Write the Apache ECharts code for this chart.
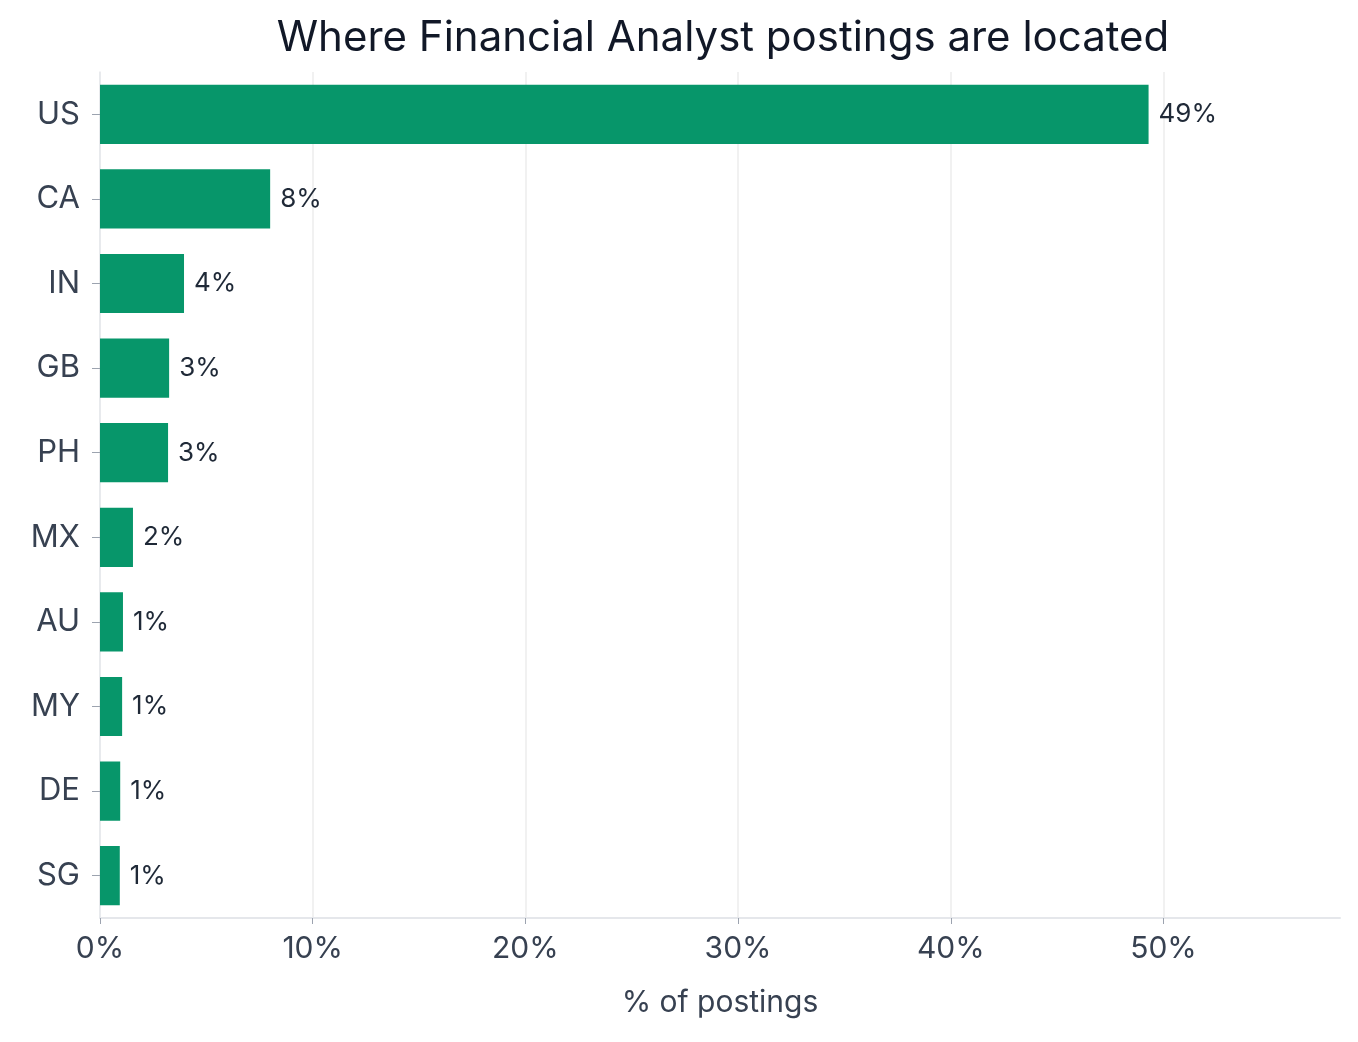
<!DOCTYPE html>
<html><head><meta charset="utf-8">
<script src="https://cdn.jsdelivr.net/npm/echarts@6/dist/echarts.min.js"></script>
<style>html,body{margin:0;background:#fff}#c{width:1358px;height:1042px}</style>
</head><body><div id="c"></div>
<script>
const categories = ["US","CA","IN","GB","PH","MX","AU","MY","DE","SG"];
const shares = [49.3, 8.0, 3.95, 3.25, 3.2, 1.55, 1.08, 1.04, 0.95, 0.93];
const xTicks = [0,10,20,30,40,50];
const chart = echarts.init(document.getElementById('c'));
chart.setOption({
  backgroundColor:'#fff',
  title:{text:'Where Financial Analyst postings are located',left:718,top:12,textAlign:'center',
    textStyle:{fontFamily:'Inter, Roboto, sans-serif',fontSize:42,fontWeight:'normal',color:'#111827'}},
  grid:{left:100,right:18,top:72,bottom:124,containLabel:false},
  xAxis:{type:'value',min:0,max:58.3,interval:10,
    name:'% of postings',nameLocation:'middle',nameGap:70,
    nameTextStyle:{fontFamily:'Inter, Roboto, sans-serif',fontSize:30,color:'#374151'},
    axisLabel:{fontFamily:'Inter, Roboto, sans-serif',fontSize:30,color:'#374151',margin:16,showMaxLabel:false,
      formatter:v=>v+'%'},
    splitLine:{show:true,showMaxLine:false,lineStyle:{color:'#ececec',width:1.5}},
    axisLine:{show:true,lineStyle:{color:'#e5e7eb',width:2}},
    axisTick:{show:true,length:6,lineStyle:{color:'#9ca3af'}}},
  yAxis:{type:'category',data:categories,inverse:true,
    axisLine:{show:true,lineStyle:{color:'#e5e7eb',width:1.5}},
    axisTick:{show:true,length:8,alignWithLabel:true,lineStyle:{color:'#9ca3af'}},
    axisLabel:{fontFamily:'Inter, Roboto, sans-serif',fontSize:31,color:'#374151',margin:20}},
  series:[{type:'bar',data:shares,barWidth:'70%',itemStyle:{color:'#07966a'},
    label:{show:true,position:'right',distance:10,fontFamily:'Inter, Roboto, sans-serif',fontSize:26,color:'#1f2937',
      formatter:p=>Math.round(p.value)+'%'}}]
});
</script></body></html>
